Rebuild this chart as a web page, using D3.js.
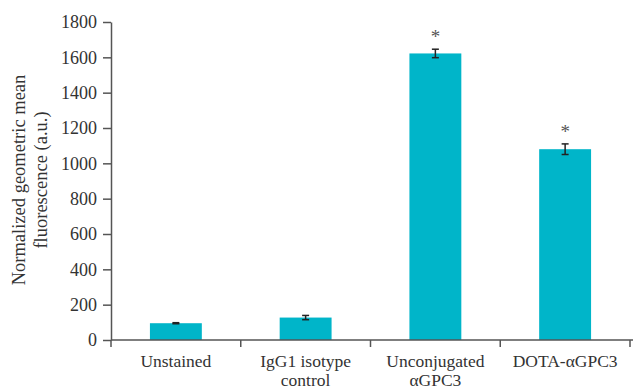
<!DOCTYPE html>
<html>
<head>
<meta charset="utf-8">
<script src="https://cdn.jsdelivr.net/npm/d3@7"></script>
<style>
  body { margin: 0; background: #fff; }
  svg { display: block; }
</style>
</head>
<body>
<div id="chart"></div>
<script>
// data
let categories = [["Unstained"], ["IgG1 isotype", "control"], ["Unconjugated", "\u03b1GPC3"], ["DOTA-\u03b1GPC3"]];
let values = [95, 127, 1622, 1080];
let errors = [3, 12, 24, 30];
let significant = [false, false, true, true];
let yTicks = [0, 200, 400, 600, 800, 1000, 1200, 1400, 1600, 1800];

let width = 633, height = 391;
let margin = {top: 22, right: 3, bottom: 51, left: 111};
let font = "'Liberation Serif', 'DejaVu Serif', serif";
let fontSize = 18;

let svg = d3.select('#chart').append('svg')
  .attr('width', width).attr('height', height);

let x = d3.scaleBand()
  .domain(d3.range(categories.length))
  .range([margin.left, width - margin.right])
  .paddingInner(0.6).paddingOuter(0.3);

let y = d3.scaleLinear()
  .domain([0, 1800])
  .range([height - margin.bottom, margin.top]);

let cx = i => x(i) + x.bandwidth() / 2;

// bars
svg.selectAll('rect.bar')
  .data(values)
  .enter().append('rect')
  .attr('x', (d, i) => x(i))
  .attr('y', d => y(d))
  .attr('width', x.bandwidth())
  .attr('height', d => y(0) - y(d))
  .attr('fill', '#00b5c9');

// error bars
let eb = svg.selectAll('g.err')
  .data(values)
  .enter().append('g')
  .attr('stroke', '#222').attr('stroke-width', 1.5);
eb.append('line')
  .attr('x1', (d, i) => cx(i)).attr('x2', (d, i) => cx(i))
  .attr('y1', (d, i) => y(d + errors[i]))
  .attr('y2', (d, i) => y(d - errors[i]));
eb.append('line')
  .attr('x1', (d, i) => cx(i) - 3.5).attr('x2', (d, i) => cx(i) + 3.5)
  .attr('y1', (d, i) => y(d + errors[i]))
  .attr('y2', (d, i) => y(d + errors[i]));
eb.append('line')
  .attr('x1', (d, i) => cx(i) - 3.5).attr('x2', (d, i) => cx(i) + 3.5)
  .attr('y1', (d, i) => y(d - errors[i]))
  .attr('y2', (d, i) => y(d - errors[i]));

// asterisks
svg.selectAll('text.star')
  .data(values.map((v, i) => ({v: v, i: i})).filter(d => significant[d.i]))
  .enter().append('text')
  .attr('x', d => cx(d.i))
  .attr('y', d => y(d.v + errors[d.i]) - 6)
  .attr('text-anchor', 'middle')
  .attr('font-family', font)
  .attr('font-size', 19)
  .attr('fill', '#555')
  .text('*');

// y axis
let yAxis = svg.append('g')
  .attr('transform', 'translate(' + margin.left + ',0)')
  .call(d3.axisLeft(y).tickValues(yTicks).tickFormat(d3.format('d'))
    .tickSize(8).tickPadding(6).tickSizeOuter(0));
yAxis.select('.domain').attr('stroke', '#555').attr('stroke-width', 1.5);
yAxis.selectAll('.tick line').attr('stroke', '#555').attr('stroke-width', 1.5);
yAxis.selectAll('.tick text')
  .attr('font-family', font)
  .attr('font-size', fontSize)
  .attr('fill', '#333');

// x axis
let xAxis = svg.append('g')
  .attr('transform', 'translate(0,' + y(0) + ')');
xAxis.append('line')
  .attr('x1', margin.left).attr('x2', width)
  .attr('y1', 0).attr('y2', 0);
let xTickPos = d3.range(categories.length + 1).map(i => margin.left + i * x.step());
xAxis.selectAll('line.tick')
  .data(xTickPos)
  .enter().append('line')
  .attr('x1', d => d).attr('x2', d => d)
  .attr('y1', 0).attr('y2', 7);
xAxis.selectAll('line').attr('stroke', '#555').attr('stroke-width', 1.5);

// category labels, one text per line
let xLines = [];
categories.forEach((c, i) => c.forEach((line, j) => xLines.push({i: i, j: j, text: line})));
svg.selectAll('text.xlab')
  .data(xLines)
  .enter().append('text')
  .attr('x', d => cx(d.i))
  .attr('y', d => y(0) + 27 + d.j * 19)
  .attr('text-anchor', 'middle')
  .attr('font-family', font)
  .attr('font-size', 17.5)
  .attr('fill', '#333')
  .text(d => d.text);

// y axis title
let yTitle = svg.append('text')
  .attr('transform', 'translate(25,180) rotate(-90)')
  .attr('text-anchor', 'middle')
  .attr('font-family', font)
  .attr('font-size', 18.5)
  .attr('fill', '#333');
yTitle.append('tspan').attr('x', 0).attr('y', 0).text('Normalized geometric mean');
yTitle.append('tspan').attr('x', 0).attr('y', 22).text('fluorescence (a.u.)');
</script>
</body>
</html>
